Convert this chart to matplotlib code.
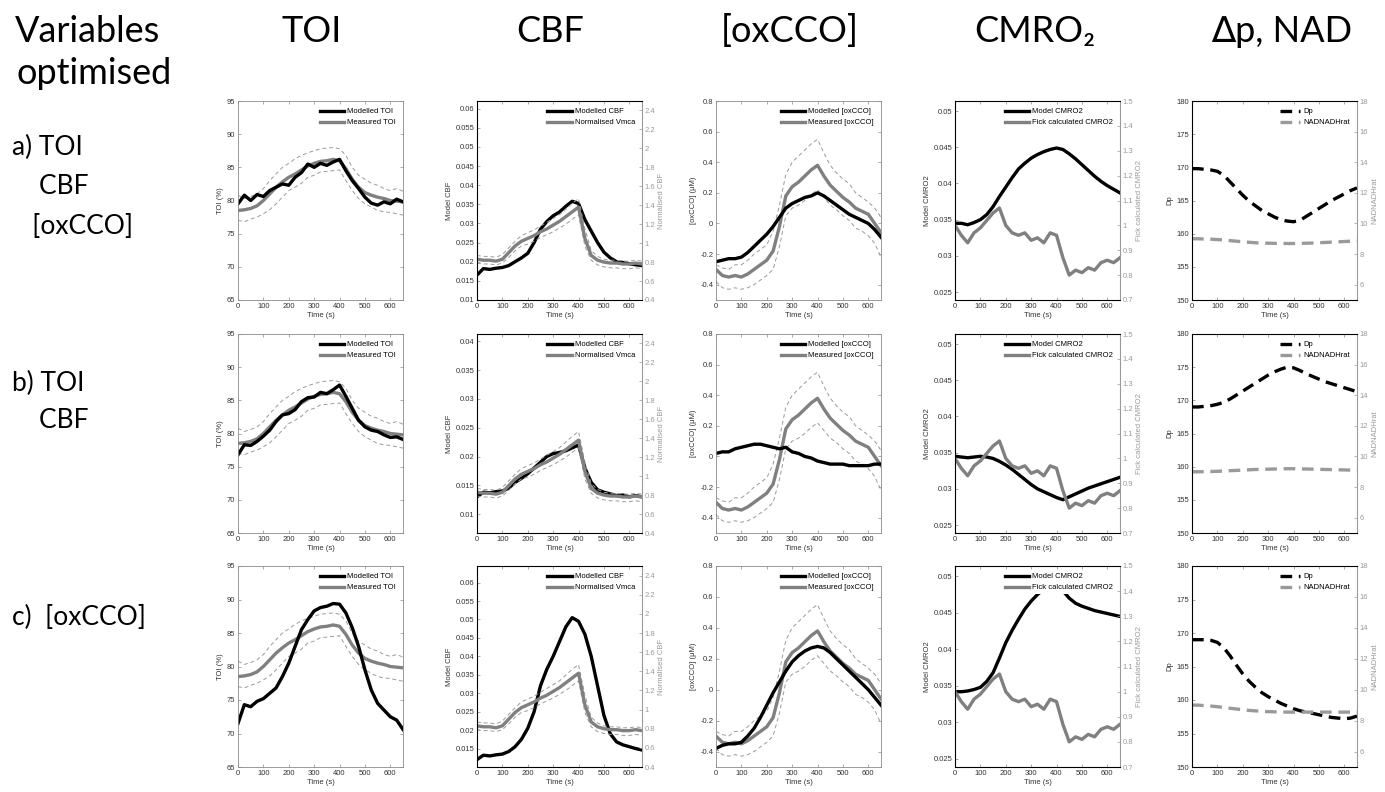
import numpy as np
import matplotlib
matplotlib.use("Agg")
import matplotlib.pyplot as plt
from matplotlib.ticker import FuncFormatter

plt.rcParams['font.family'] = ['Liberation Sans', 'DejaVu Sans']

# time axis (s), sampled every 25 s
t = np.arange(0, 651, 25)

# measured data (same in every row)
toi_meas = [78.5, 78.6, 78.8, 79.2, 80.0, 81.0, 82.0, 82.8, 83.5, 84.0, 84.6, 85.2, 85.6, 85.9,
            86.0, 86.2, 86.0, 84.8, 83.2, 82.0, 81.2, 80.8, 80.5, 80.3, 80.0, 79.9, 79.8]
toi_hi = [80.8, 80.3, 80.6, 81.0, 81.8, 83.0, 84.0, 85.0, 85.6, 86.3, 86.8, 87.2, 87.5, 87.8,
          87.9, 88.0, 87.8, 86.8, 85.0, 83.8, 83.2, 82.6, 82.3, 81.8, 81.5, 81.8, 81.4]
toi_lo = [77.0, 76.8, 77.2, 77.5, 78.0, 78.6, 79.5, 80.5, 81.5, 82.0, 82.6, 83.5, 83.8, 84.3,
          84.4, 84.5, 84.6, 83.0, 81.5, 80.3, 79.5, 79.0, 78.5, 78.3, 78.2, 78.0, 77.8]

vmca = [0.83, 0.82, 0.82, 0.81, 0.83, 0.90, 0.97, 1.02, 1.05, 1.08, 1.12, 1.15, 1.19, 1.23,
        1.28, 1.33, 1.38, 1.05, 0.87, 0.82, 0.80, 0.79, 0.79, 0.78, 0.78, 0.79, 0.78]
vmca_hi = [0.87, 0.86, 0.86, 0.85, 0.88, 0.95, 1.02, 1.08, 1.11, 1.14, 1.18, 1.22, 1.26, 1.30,
           1.36, 1.42, 1.47, 1.15, 0.92, 0.86, 0.83, 0.82, 0.82, 0.81, 0.81, 0.82, 0.81]
vmca_lo = [0.79, 0.78, 0.78, 0.77, 0.79, 0.85, 0.92, 0.97, 0.99, 1.02, 1.06, 1.09, 1.12, 1.16,
           1.20, 1.25, 1.30, 0.97, 0.82, 0.77, 0.75, 0.74, 0.74, 0.73, 0.73, 0.74, 0.73]

oxcco_meas = [-0.30, -0.34, -0.35, -0.34, -0.35, -0.33, -0.30, -0.27, -0.24, -0.18, -0.02, 0.18, 0.24, 0.27,
              0.31, 0.35, 0.38, 0.31, 0.25, 0.21, 0.17, 0.14, 0.10, 0.08, 0.06, 0.0, -0.06]
oxcco_hi = [-0.27, -0.29, -0.30, -0.27, -0.27, -0.24, -0.20, -0.17, -0.14, -0.05, 0.12, 0.32, 0.40, 0.44,
            0.48, 0.52, 0.55, 0.46, 0.38, 0.33, 0.29, 0.26, 0.20, 0.17, 0.14, 0.10, 0.04]
oxcco_lo = [-0.38, -0.42, -0.43, -0.42, -0.43, -0.42, -0.40, -0.37, -0.34, -0.30, -0.15, 0.05, 0.10, 0.12,
            0.15, 0.19, 0.22, 0.17, 0.12, 0.09, 0.05, 0.02, -0.03, -0.05, -0.08, -0.13, -0.22]

fick = [1.00, 0.96, 0.93, 0.97, 0.99, 1.02, 1.05, 1.07, 1.00, 0.97, 0.96, 0.97, 0.94, 0.95,
        0.93, 0.97, 0.96, 0.87, 0.80, 0.82, 0.81, 0.83, 0.82, 0.85, 0.86, 0.85, 0.87]

# model outputs, one list per row (a, b, c)
toi_model = [
    [79.5, 80.8, 80.0, 80.9, 80.6, 81.5, 82.0, 82.5, 82.3, 83.5, 84.2, 85.5, 85.0, 85.6,
     85.3, 85.8, 86.2, 84.5, 83.0, 81.8, 80.5, 79.6, 79.3, 79.8, 79.5, 80.2, 79.8],
    [76.8, 78.3, 78.2, 78.8, 79.6, 80.5, 81.8, 82.8, 83.0, 83.6, 84.8, 85.4, 85.5, 86.2,
     86.0, 86.6, 87.3, 85.6, 83.8, 82.0, 81.0, 80.5, 80.3, 79.8, 79.4, 79.5, 79.1],
    [71.5, 74.3, 74.0, 74.8, 75.2, 76.0, 76.8, 78.5, 80.5, 83.0, 85.5, 87.0, 88.3, 88.8,
     89.0, 89.4, 89.3, 88.0, 85.8, 83.0, 79.5, 76.5, 74.5, 73.5, 72.5, 72.0, 70.6],
]
cbf_model = [
    [0.0165, 0.0182, 0.0180, 0.0183, 0.0185, 0.0190, 0.0200, 0.0210, 0.0222, 0.0250, 0.0285, 0.0305, 0.0320, 0.0330,
     0.0345, 0.0358, 0.0352, 0.0310, 0.0280, 0.0250, 0.0225, 0.0210, 0.0200, 0.0198, 0.0195, 0.0192, 0.0190],
    [0.0130, 0.0138, 0.0137, 0.0139, 0.0140, 0.0145, 0.0155, 0.0162, 0.0170, 0.0180, 0.0190, 0.0200, 0.0205, 0.0207,
     0.0210, 0.0215, 0.0220, 0.0180, 0.0155, 0.0142, 0.0138, 0.0135, 0.0132, 0.0133, 0.0130, 0.0132, 0.0130],
    [0.0120, 0.0132, 0.0130, 0.0133, 0.0135, 0.0142, 0.0155, 0.0175, 0.0205, 0.0250, 0.0320, 0.0365, 0.0400, 0.0440,
     0.0480, 0.0505, 0.0495, 0.0460, 0.0400, 0.0320, 0.0240, 0.0190, 0.0168, 0.0160, 0.0155, 0.0150, 0.0146],
]
oxcco_model = [
    [-0.25, -0.24, -0.23, -0.23, -0.22, -0.19, -0.15, -0.11, -0.07, -0.02, 0.04, 0.10, 0.13, 0.15,
     0.17, 0.18, 0.20, 0.18, 0.15, 0.12, 0.09, 0.06, 0.04, 0.02, 0.0, -0.04, -0.09],
    [0.02, 0.03, 0.03, 0.05, 0.06, 0.07, 0.08, 0.08, 0.07, 0.06, 0.05, 0.06, 0.03, 0.02,
     0.0, -0.01, -0.03, -0.04, -0.05, -0.05, -0.05, -0.06, -0.06, -0.06, -0.06, -0.05, -0.05],
    [-0.38, -0.36, -0.35, -0.35, -0.34, -0.30, -0.25, -0.18, -0.10, -0.02, 0.05, 0.12, 0.18, 0.22,
     0.25, 0.27, 0.28, 0.27, 0.24, 0.20, 0.16, 0.12, 0.08, 0.04, 0.0, -0.05, -0.10],
]
cmro2_model = [
    [0.0345, 0.0345, 0.0343, 0.0346, 0.0350, 0.0357, 0.0368, 0.0382, 0.0395, 0.0408, 0.0420, 0.0428, 0.0435, 0.0440,
     0.0444, 0.0447, 0.0449, 0.0447, 0.0441, 0.0434, 0.0426, 0.0418, 0.0410, 0.0403, 0.0397, 0.0392, 0.0387],
    [0.0345, 0.0344, 0.0343, 0.0344, 0.0345, 0.0344, 0.0342, 0.0338, 0.0333, 0.0327, 0.0320, 0.0313, 0.0306, 0.0300,
     0.0296, 0.0292, 0.0288, 0.0285, 0.0289, 0.0293, 0.0297, 0.0301, 0.0304, 0.0307, 0.0310, 0.0313, 0.0316],
    [0.0342, 0.0342, 0.0343, 0.0345, 0.0348, 0.0356, 0.0368, 0.0388, 0.0409, 0.0426, 0.0441, 0.0455, 0.0466, 0.0475,
     0.0482, 0.0486, 0.0486, 0.0480, 0.0470, 0.0463, 0.0459, 0.0456, 0.0453, 0.0451, 0.0449, 0.0447, 0.0445],
]
dp_model = [
    [169.8, 169.8, 169.7, 169.6, 169.4, 168.8, 167.8, 166.8, 165.8, 164.9, 164.2, 163.5, 163.0, 162.5,
     162.1, 161.9, 161.8, 162.0, 162.6, 163.2, 163.8, 164.4, 165.0, 165.5, 166.0, 166.5, 166.9],
    [169.0, 169.0, 169.1, 169.2, 169.4, 169.7, 170.2, 170.8, 171.4, 172.0, 172.6, 173.2, 173.8, 174.3,
     174.7, 175.0, 174.9, 174.5, 174.0, 173.6, 173.2, 172.8, 172.5, 172.2, 171.9, 171.6, 171.3],
    [169.0, 169.0, 169.0, 168.9, 168.6, 167.8, 166.6, 165.2, 163.9, 162.8, 161.9, 161.1, 160.5, 160.0,
     159.5, 159.1, 158.7, 158.4, 158.2, 158.0, 157.8, 157.6, 157.4, 157.3, 157.2, 157.3, 157.6],
]
nad_model = [
    [9.0, 9.0, 8.98, 8.97, 8.95, 8.92, 8.88, 8.84, 8.8, 8.77, 8.74, 8.72, 8.71, 8.7,
     8.7, 8.69, 8.69, 8.7, 8.71, 8.72, 8.74, 8.76, 8.78, 8.8, 8.82, 8.84, 8.86],
    [9.0, 9.0, 9.01, 9.02, 9.03, 9.05, 9.07, 9.09, 9.11, 9.13, 9.15, 9.16, 9.17, 9.18,
     9.19, 9.2, 9.2, 9.19, 9.18, 9.17, 9.16, 9.15, 9.14, 9.13, 9.12, 9.11, 9.1],
    [9.0, 9.0, 8.97, 8.94, 8.9, 8.85, 8.8, 8.75, 8.7, 8.66, 8.63, 8.6, 8.58, 8.57,
     8.56, 8.55, 8.55, 8.55, 8.55, 8.55, 8.55, 8.55, 8.55, 8.55, 8.55, 8.55, 8.55],
]

cbf_ylims = [(0.01, 0.062), (0.0067, 0.0413), (0.010, 0.0645)]
cbf_yticks = [np.arange(0.01, 0.0601, 0.005), np.arange(0.01, 0.0401, 0.005), np.arange(0.015, 0.0601, 0.005)]

col_titles = ["TOI", "CBF", "[oxCCO]", "CMRO\u2082", "\u2206p, NAD"]
row_labels = [["a) TOI", "    CBF", "   [oxCCO]"], ["b) TOI", "    CBF"], ["c)  [oxCCO]"]]

W, H = 1385, 792
fig = plt.figure(figsize=(W / 100, H / 100), dpi=100)

BLACK = "#000000"
GREY = "#808080"
LGREY = "#9a9a9a"
AXC = "#8a8a8a"
FS = 5.5

col_x = [238, 477, 716, 955, 1192]
col_w = 165
rows_y = [(101, 300), (334, 533), (566, 767)]

fmt = FuncFormatter(lambda v, p: "%g" % round(v, 4))


def add_ax(x0, y0, x1, y1):
    return fig.add_axes([x0 / W, 1 - y1 / H, (x1 - x0) / W, (y1 - y0) / H])


def style(ax, right=True):
    for s in ax.spines.values():
        s.set_color(AXC)
        s.set_linewidth(0.6)
    ax.tick_params(direction="in", length=2.5, width=0.5, colors=AXC, labelcolor="#333333",
                   labelsize=FS, top=True, right=right, pad=2)
    ax.set_xlim(0, 650)
    ax.set_xticks(np.arange(0, 601, 100))
    ax.set_xlabel("Time (s)", fontsize=FS, color="#333333", labelpad=1.5)
    ax.yaxis.set_major_formatter(fmt)


def style_twin(ax2):
    ax2.spines["right"].set_color(LGREY)
    ax2.tick_params(axis="y", direction="in", length=2.5, width=0.5, colors=LGREY,
                    labelcolor=LGREY, labelsize=FS, pad=2)
    ax2.yaxis.set_major_formatter(fmt)


def legend(ax, handles, hl=3.2):
    leg = ax.legend(handles=handles, loc="upper right", fontsize=FS, frameon=True,
                    facecolor="white", edgecolor="none", framealpha=1, handlelength=hl,
                    borderaxespad=0.6, labelspacing=0.5, handletextpad=0.4, borderpad=0.3)
    return leg


for r, (y0, y1) in enumerate(rows_y):
    # TOI
    ax = add_ax(col_x[0], y0, col_x[0] + col_w, y1)
    ax.plot(t, toi_hi, color=LGREY, lw=0.7, dashes=(4, 3))
    ax.plot(t, toi_lo, color=LGREY, lw=0.7, dashes=(4, 3))
    h2, = ax.plot(t, toi_meas, color=GREY, lw=2.4, label="Measured TOI")
    h1, = ax.plot(t, toi_model[r], color=BLACK, lw=2.4, label="Modelled TOI")
    ax.set_ylim(65, 95)
    ax.set_yticks(np.arange(65, 96, 5))
    ax.set_ylabel("TOI (%)", fontsize=FS, color="#333333", labelpad=2)
    style(ax)
    legend(ax, [h1, h2])

    # CBF
    ax = add_ax(col_x[1], y0, col_x[1] + col_w, y1)
    h1, = ax.plot(t, cbf_model[r], color=BLACK, lw=2.4, label="Modelled CBF")
    ax.set_ylim(*cbf_ylims[r])
    ax.set_yticks(cbf_yticks[r])
    ax.set_ylabel("Model CBF", fontsize=FS, color="#333333", labelpad=2)
    style(ax, right=False)
    ax2 = ax.twinx()
    ax2.plot(t, vmca_hi, color=LGREY, lw=0.7, dashes=(4, 3))
    ax2.plot(t, vmca_lo, color=LGREY, lw=0.7, dashes=(4, 3))
    h2, = ax2.plot(t, vmca, color=GREY, lw=2.4, label="Normalised Vmca")
    ax2.set_ylim(0.4, 2.5)
    ax2.set_yticks(np.arange(0.4, 2.41, 0.2))
    ax2.set_ylabel("Normalised CBF", fontsize=FS, color=LGREY, labelpad=2)
    style_twin(ax2)
    legend(ax2, [h1, h2])

    # oxCCO
    ax = add_ax(col_x[2], y0, col_x[2] + col_w, y1)
    ax.plot(t, oxcco_hi, color=LGREY, lw=0.7, dashes=(4, 3))
    ax.plot(t, oxcco_lo, color=LGREY, lw=0.7, dashes=(4, 3))
    h2, = ax.plot(t, oxcco_meas, color=GREY, lw=2.4, label="Measured [oxCCO]")
    h1, = ax.plot(t, oxcco_model[r], color=BLACK, lw=2.4, label="Modelled [oxCCO]")
    ax.set_ylim(-0.5, 0.8)
    ax.set_yticks(np.round(np.arange(-0.4, 0.81, 0.2), 2))
    ax.set_ylabel("[oxCCO] (\u03bcM)", fontsize=FS, color="#333333", labelpad=2)
    style(ax)
    legend(ax, [h1, h2])

    # CMRO2
    ax = add_ax(col_x[3], y0, col_x[3] + col_w, y1)
    h1, = ax.plot(t, cmro2_model[r], color=BLACK, lw=2.4, label="Model CMRO2")
    ax.set_ylim(0.0239, 0.0514)
    ax.set_yticks(np.arange(0.025, 0.0501, 0.005))
    ax.set_ylabel("Model CMRO2", fontsize=FS, color="#333333", labelpad=2)
    style(ax, right=False)
    ax2 = ax.twinx()
    h2, = ax2.plot(t, fick, color=GREY, lw=2.4, label="Fick calculated CMRO2")
    ax2.set_ylim(0.7, 1.5)
    ax2.set_yticks(np.arange(0.7, 1.51, 0.1))
    ax2.set_ylabel("Fick calculated CMRO2", fontsize=FS, color=LGREY, labelpad=2)
    style_twin(ax2)
    legend(ax2, [h1, h2])

    # Dp / NAD
    ax = add_ax(col_x[4], y0, col_x[4] + col_w, y1)
    h1, = ax.plot(t, dp_model[r], color=BLACK, lw=2.4, dashes=(3.5, 2), label="Dp")
    ax.set_ylim(150, 180)
    ax.set_yticks(np.arange(150, 181, 5))
    ax.set_ylabel("Dp", fontsize=FS, color="#333333", labelpad=2)
    style(ax, right=False)
    ax2 = ax.twinx()
    h2, = ax2.plot(t, nad_model[r], color=LGREY, lw=2.4, dashes=(3.5, 2), label="NADNADHrat")
    ax2.set_ylim(5, 18)
    ax2.set_yticks(np.arange(6, 19, 2))
    ax2.set_ylabel("NADNADHrat", fontsize=FS, color=LGREY, labelpad=2)
    style_twin(ax2)
    legend(ax2, [h1, h2], hl=2.6)

# headers and row labels
big = ['Lato', 'DejaVu Sans']
fig.text(15 / W, 1 - 31 / H, "Variables", fontsize=26, family=big, va="center", ha="left")
fig.text(17 / W, 1 - 74 / H, "optimised", fontsize=26, family=big, va="center", ha="left")
for x, s in zip([312, 550, 790, 1035, 1282], col_titles):
    fig.text(x / W, 1 - 31 / H, s, fontsize=26, family=big, va="center", ha="center")

row_label_y = [[147, 186, 226], [383, 420], [617]]
for labs, ys in zip(row_labels, row_label_y):
    for s, y in zip(labs, ys):
        fig.text(12 / W, 1 - y / H, s, fontsize=19, family=big, va="center", ha="left")

fig.savefig("out.png", dpi=100)
